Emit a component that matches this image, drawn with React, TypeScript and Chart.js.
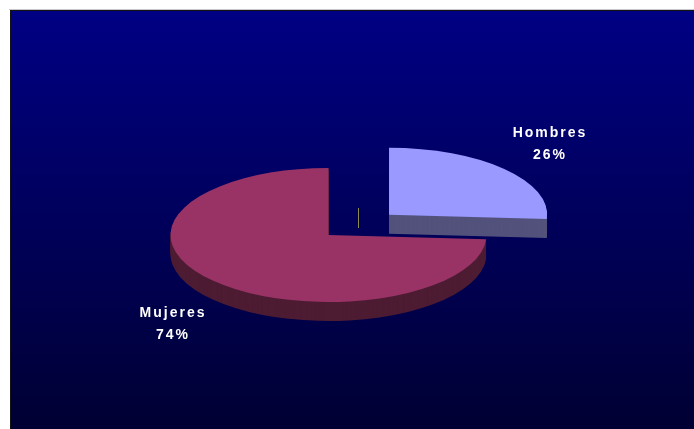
import React, { useEffect, useRef } from "react";
import { Chart, registerables } from "chart.js";

Chart.register(...registerables);

const categories = ["Hombres", "Mujeres"];
const shares = [26, 74];
const topColors = ["#9999ff", "#993366"];
const sideColors = ["#52527c", "#4d1c33"];
const labelAnchors = [
  { x: 550, y: 133 },
  { x: 173, y: 313 },
];

const WIDTH = 694;
const HEIGHT = 429;
const TILT = 0.424;
const DEPTH = 19;
const explodeNudge = [{ x: 2.2, y: 3 }, { x: 0, y: 0 }];

const pie3d = {
  id: "pie3d",
  beforeDraw(chart: any) {
    const { ctx } = chart;
    const g = ctx.createLinearGradient(0, 10, 0, HEIGHT);
    g.addColorStop(0, "#000084");
    g.addColorStop(1, "#000033");
    ctx.save();
    ctx.fillStyle = "#c8c8c8";
    ctx.fillRect(9, 9, WIDTH - 9, 1);
    ctx.fillStyle = "#141414";
    ctx.fillRect(10, 10, WIDTH - 10, HEIGHT - 10);
    ctx.fillStyle = g;
    ctx.fillRect(11, 11, WIDTH - 11, HEIGHT - 11);
    ctx.restore();
  },
  beforeDatasetsDraw(chart: any) {
    const { ctx } = chart;
    const arcs = chart.getDatasetMeta(0).data;
    const cx = arcs[0].x;
    const cy = arcs[0].y;
    const order = [1, 0];
    order.forEach((i) => {
      const arc = arcs[i];
      const nudge = explodeNudge[i];
      const saved = arc.options;
      ctx.save();
      ctx.translate(cx + nudge.x, cy + nudge.y);
      ctx.scale(1, TILT);
      ctx.translate(-cx, -cy);
      arc.options = { ...saved, backgroundColor: sideColors[i], borderWidth: 0 };
      for (let d = DEPTH; d >= 1; d -= 1) {
        ctx.save();
        ctx.translate(0, d / TILT);
        arc.draw(ctx);
        ctx.restore();
      }
      arc.options = saved;
      arc.draw(ctx);
      ctx.restore();
    });
    return false;
  },
  afterDraw(chart: any) {
    const { ctx } = chart;
    const arc = chart.getDatasetMeta(0).data[0];
    ctx.save();
    ctx.strokeStyle = "#8c8c50";
    ctx.lineWidth = 1;
    ctx.beginPath();
    ctx.moveTo(arc.x + 30, arc.y - 27);
    ctx.lineTo(arc.x + 30, arc.y - 7);
    ctx.stroke();
    ctx.fillStyle = "#ffffff";
    ctx.font = 'bold 14px "Liberation Sans"';
    ctx.textAlign = "center";
    ctx.textBaseline = "middle";
    ctx.letterSpacing = "2px";
    categories.forEach((name, i) => {
      const a = labelAnchors[i];
      ctx.fillText(name, a.x, a.y);
      ctx.fillText(`${shares[i]}%`, a.x, a.y + 22);
    });
    ctx.restore();
  },
};

export default function App() {
  const ref = useRef<HTMLCanvasElement>(null);
  useEffect(() => {
    const chart = new Chart(ref.current as HTMLCanvasElement, {
      type: "pie",
      data: {
        labels: categories,
        datasets: [
          {
            data: shares,
            backgroundColor: topColors,
            borderWidth: 0,
            offset: [320, 0],
            clip: false,
          } as any,
        ],
      },
      options: {
        responsive: false,
        animation: false,
        devicePixelRatio: 1,
        radius: 158,
        layout: { padding: { left: 0, right: 37, top: 41, bottom: 0 } },
        plugins: { legend: { display: false }, tooltip: { enabled: false } },
        events: [],
      } as any,
      plugins: [pie3d],
    });
    return () => chart.destroy();
  }, []);
  return (
    <div style={{ position: "fixed", left: 0, top: 0, width: WIDTH, height: HEIGHT, overflow: "hidden", background: "#fff" }}>
      <canvas ref={ref} width={WIDTH} height={HEIGHT} style={{ display: "block" }} />
    </div>
  );
}
